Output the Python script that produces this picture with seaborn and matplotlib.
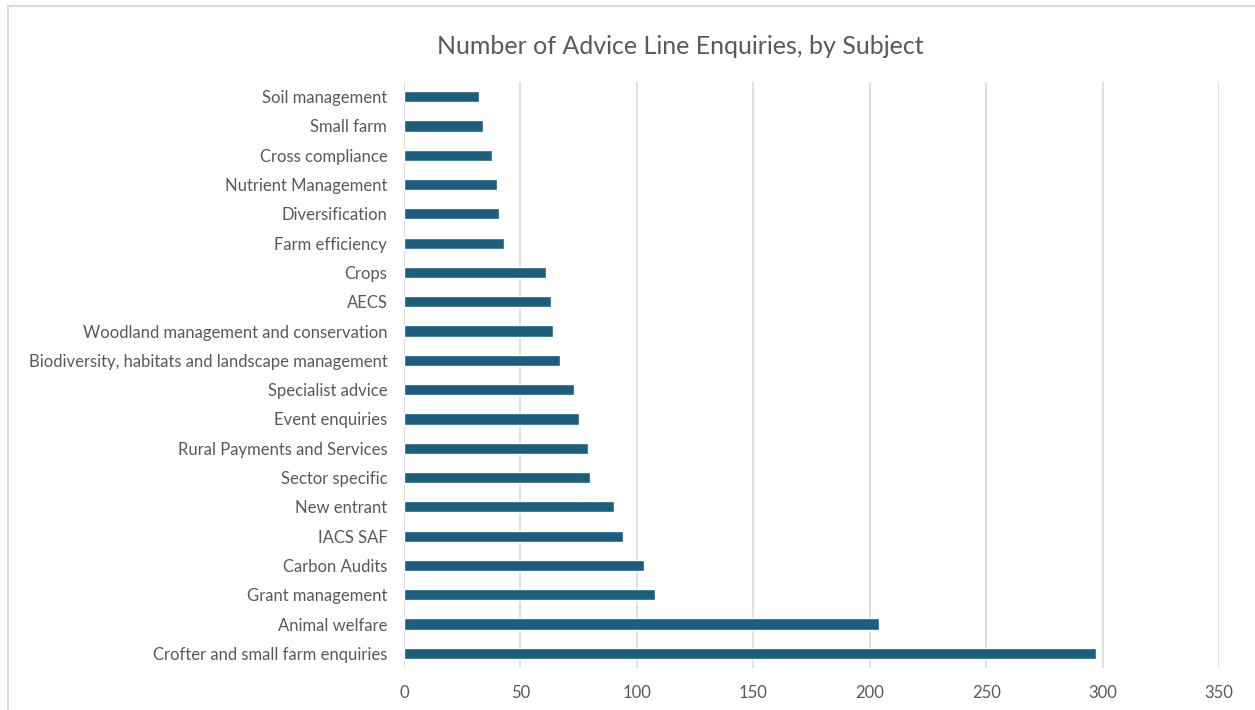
import matplotlib
matplotlib.use("Agg")
import matplotlib.pyplot as plt
import seaborn as sns
import pandas as pd
from matplotlib.patches import Rectangle

categories = [
    "Soil management", "Small farm", "Cross compliance", "Nutrient Management",
    "Diversification", "Farm efficiency", "Crops", "AECS",
    "Woodland management and conservation",
    "Biodiversity, habitats and landscape management",
    "Specialist advice", "Event enquiries", "Rural Payments and Services",
    "Sector specific", "New entrant", "IACS SAF", "Carbon Audits",
    "Grant management", "Animal welfare", "Crofter and small farm enquiries",
]
values = [32, 34, 38, 40, 41, 43, 61, 63, 64, 67, 73, 75, 79, 80, 90, 94, 103, 108, 204, 297]
x_ticks = [0, 50, 100, 150, 200, 250, 300, 350]
title = "Number of Advice Line Enquiries, by Subject"

df = pd.DataFrame({"Subject": categories, "Enquiries": values})

sns.set_theme(style="white")
plt.rcParams["font.family"] = ["Lato", "DejaVu Sans"]

W, H = 1255, 710
fig = plt.figure(figsize=(W / 100, H / 100), dpi=100)
ax = fig.add_axes([404 / W, 1 - 668 / H, 815 / W, (668 - 82) / H])

sns.barplot(data=df, x="Enquiries", y="Subject", order=categories,
            color="#1b5e80", saturation=1, width=0.38, ax=ax, zorder=3)

ax.set_xlim(0, 350)
ax.set_xticks(x_ticks)
ax.set_xlabel("")
ax.set_ylabel("")
for s in ax.spines.values():
    s.set_visible(False)
ax.grid(axis="x", color="#d9d9d9", linewidth=1.2, zorder=0)
ax.grid(axis="y", visible=False)
ax.set_axisbelow(True)
ax.tick_params(axis="x", length=0, pad=12, labelsize=12, labelcolor="#595959")
ax.tick_params(axis="y", length=0, pad=12, labelsize=12, labelcolor="#595959")

fig.text(680 / W, 1 - 46 / H, title, ha="center", va="center",
         fontsize=18, color="#595959")

fig.patches.append(Rectangle((8 / W, -0.1), 1.2, 1 - 5.5 / H + 0.1,
                             transform=fig.transFigure, fill=False,
                             edgecolor="#d9d9d9", linewidth=1.5))

fig.savefig("out.png", dpi=100)
